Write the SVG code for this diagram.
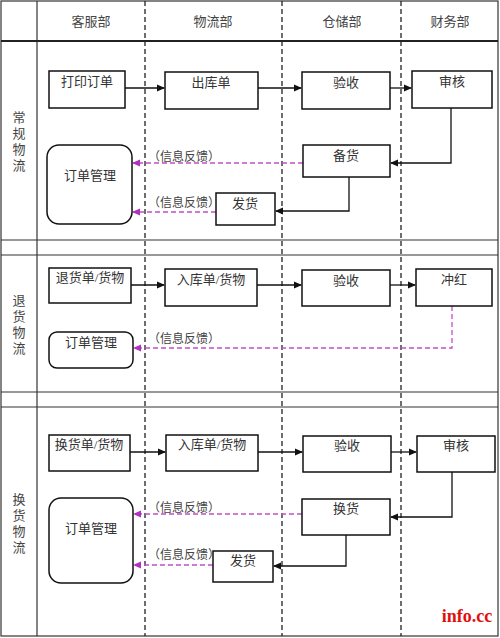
<svg xmlns="http://www.w3.org/2000/svg" width="500" height="638" viewBox="0 0 500 638">
<defs>
<style>
.grid{stroke:#333;stroke-width:1.2;fill:none}
.lane{stroke:#222;stroke-width:1.3;stroke-dasharray:5,3;fill:none}
.box{fill:#fff;stroke:#111;stroke-width:1.5}
.t{font-family:"Liberation Serif","Noto Sans CJK SC",serif;font-size:13px;fill:#333;text-anchor:middle}
.h{font-family:"Liberation Serif","Noto Sans CJK SC",serif;font-size:13px;fill:#444;text-anchor:middle}
.fb{font-family:"Liberation Serif","Noto Sans CJK SC",serif;font-size:12px;fill:#444}
.solid{stroke:#111;stroke-width:1.3;fill:none;marker-end:url(#ab)}
.fbk{stroke:#c050c8;stroke-width:1.3;stroke-dasharray:5,3;fill:none;marker-end:url(#am)}
</style>
<marker id="ab" markerWidth="8" markerHeight="8" refX="7" refY="4" orient="auto" markerUnits="userSpaceOnUse"><path d="M0,0.5 L8,4 L0,7.5 Z" fill="#111"/></marker>
<marker id="am" markerWidth="8" markerHeight="8" refX="7" refY="4" orient="auto" markerUnits="userSpaceOnUse"><path d="M0,0.5 L8,4 L0,7.5 Z" fill="#b030c0"/></marker>
</defs>
<rect width="500" height="638" fill="#fff"/>
<g id="grid">
<rect x="1" y="1" width="497" height="635" class="grid"/>
<line x1="37" y1="1" x2="37" y2="636" class="grid"/>
<line x1="1" y1="41" x2="498" y2="41" stroke="#222" stroke-width="2"/>
<line x1="1" y1="240" x2="498" y2="240" class="grid"/>
<line x1="1" y1="255" x2="498" y2="255" class="grid"/>
<line x1="1" y1="392" x2="498" y2="392" class="grid"/>
<line x1="1" y1="407" x2="498" y2="407" class="grid"/>
<line x1="145" y1="1" x2="145" y2="636" class="lane"/>
<line x1="282" y1="1" x2="282" y2="636" class="lane"/>
<line x1="401" y1="1" x2="401" y2="636" class="lane"/>
</g>
<g id="headers">
<text x="91" y="26" class="h">客服部</text>
<text x="213" y="26" class="h">物流部</text>
<text x="342" y="26" class="h">仓储部</text>
<text x="450" y="26" class="h">财务部</text>
</g>
<g id="lane-labels">
<text class="h"><tspan x="19" y="122">常</tspan><tspan x="19" y="138">规</tspan><tspan x="19" y="154">物</tspan><tspan x="19" y="170">流</tspan></text>
<text class="h"><tspan x="19" y="305">退</tspan><tspan x="19" y="321">货</tspan><tspan x="19" y="337">物</tspan><tspan x="19" y="353">流</tspan></text>
<text class="h"><tspan x="19" y="504">换</tspan><tspan x="19" y="520">货</tspan><tspan x="19" y="536">物</tspan><tspan x="19" y="552">流</tspan></text>
</g>
<g id="connectors">
<line x1="125" y1="88" x2="164" y2="88" class="solid"/>
<line x1="258" y1="88" x2="301" y2="88" class="solid"/>
<line x1="390" y1="88" x2="411" y2="88" class="solid"/>
<polyline points="451,108 451,163 391,163" class="solid"/>
<polyline points="349,177 349,211 276,211" class="solid"/>
<line x1="303" y1="163" x2="133" y2="163" class="fbk"/>
<line x1="216" y1="212" x2="133" y2="212" class="fbk"/>
<line x1="131" y1="285" x2="164" y2="285" class="solid"/>
<line x1="257" y1="285" x2="301" y2="285" class="solid"/>
<line x1="390" y1="285" x2="415" y2="285" class="solid"/>
<polyline points="452,306 452,348 134,348" class="fbk"/>
<line x1="130" y1="452" x2="165" y2="452" class="solid"/>
<line x1="258" y1="452" x2="302" y2="452" class="solid"/>
<line x1="391" y1="452" x2="416" y2="452" class="solid"/>
<polyline points="452,472 452,517 391,517" class="solid"/>
<polyline points="346,535 346,566 274,566" class="solid"/>
<line x1="302" y1="514" x2="134" y2="514" class="fbk"/>
<line x1="213" y1="565" x2="134" y2="565" class="fbk"/>
<text x="148" y="161" class="fb">（信息反馈）</text>
<text x="148" y="207" class="fb">（信息反馈）</text>
<text x="148" y="343" class="fb">（信息反馈）</text>
<text x="148" y="512" class="fb">（信息反馈）</text>
<text x="148" y="559" class="fb">（信息反馈）</text>
</g>
<g id="n1-print"><rect x="49" y="71" width="76" height="37" class="box"/><text x="87" y="86" class="t">打印订单</text></g>
<g id="n1-out"><rect x="165" y="72" width="93" height="37" class="box"/><text x="211" y="87" class="t">出库单</text></g>
<g id="n1-check"><rect x="302" y="72" width="88" height="37" class="box"/><text x="346" y="87" class="t">验收</text></g>
<g id="n1-audit"><rect x="412" y="71" width="80" height="37" class="box"/><text x="452" y="86" class="t">审核</text></g>
<g id="n1-order"><rect x="47" y="145" width="85" height="79" rx="12" class="box"/><text x="90" y="180" class="t">订单管理</text></g>
<g id="n1-prep"><rect x="303" y="145" width="87" height="32" class="box"/><text x="346" y="160" class="t">备货</text></g>
<g id="n1-ship"><rect x="216" y="193" width="59" height="32" class="box"/><text x="245" y="208" class="t">发货</text></g>
<g id="n2-return"><rect x="49" y="268" width="82" height="35" class="box"/><text x="90" y="282" class="t">退货单/货物</text></g>
<g id="n2-in"><rect x="165" y="269" width="92" height="37" class="box"/><text x="211" y="284" class="t">入库单/货物</text></g>
<g id="n2-check"><rect x="302" y="270" width="88" height="36" class="box"/><text x="346" y="285" class="t">验收</text></g>
<g id="n2-red"><rect x="416" y="269" width="76" height="37" class="box"/><text x="454" y="284" class="t">冲红</text></g>
<g id="n2-order"><rect x="49" y="332" width="84" height="36" rx="8" class="box"/><text x="91" y="347" class="t">订单管理</text></g>
<g id="n3-exch"><rect x="49" y="435" width="81" height="36" class="box"/><text x="89" y="449" class="t">换货单/货物</text></g>
<g id="n3-in"><rect x="166" y="435" width="92" height="36" class="box"/><text x="212" y="449" class="t">入库单/货物</text></g>
<g id="n3-check"><rect x="303" y="436" width="88" height="36" class="box"/><text x="347" y="450" class="t">验收</text></g>
<g id="n3-audit"><rect x="417" y="436" width="78" height="36" class="box"/><text x="456" y="450" class="t">审核</text></g>
<g id="n3-order"><rect x="49" y="498" width="84" height="85" rx="12" class="box"/><text x="91" y="533" class="t">订单管理</text></g>
<g id="n3-swap"><rect x="302" y="499" width="88" height="36" class="box"/><text x="346" y="513" class="t">换货</text></g>
<g id="n3-ship"><rect x="213" y="551" width="60" height="31" class="box"/><text x="243" y="565" class="t">发货</text></g>
<text x="467" y="622" font-family="Liberation Serif, serif" font-weight="bold" font-size="18" fill="#e01010" text-anchor="middle">info.cc</text>
</svg>
